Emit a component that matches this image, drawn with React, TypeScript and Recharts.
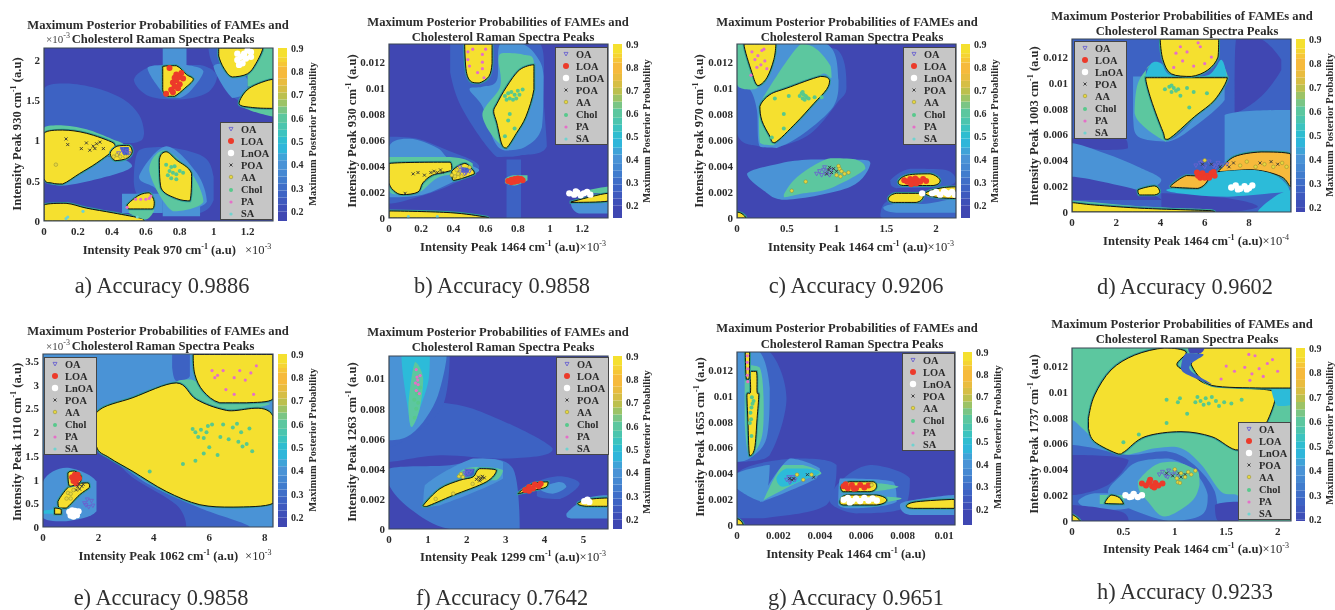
import React from "react";
import { ScatterChart, Scatter, XAxis, YAxis } from "recharts";

type Pt = [number, number];
type Region = [number, Pt[]];
type Marks = Record<string, Pt[]>;

const classNames = ["OA", "LOA", "LnOA", "POA", "AA", "Chol", "PA", "SA"];
const colorbarTicks = [0.2, 0.3, 0.4, 0.5, 0.6, 0.7, 0.8, 0.9];
const colorbarBands: [number, number, string][] = [
  [0.1, 0.2, "#3f47b2"], [0.2, 0.23, "#3e4fb8"], [0.23, 0.26, "#3e59be"], [0.26, 0.29, "#3d63c4"], [0.29, 0.32, "#3f6ec8"],
  [0.32, 0.35, "#417ccd"], [0.35, 0.38, "#4588d2"], [0.38, 0.42, "#4a93d6"], [0.42, 0.45, "#3fa3d8"], [0.45, 0.49, "#2fb6da"],
  [0.49, 0.52, "#2fbdd0"], [0.52, 0.55, "#3cc3bf"], [0.55, 0.58, "#4cc5ae"], [0.58, 0.62, "#5cc79f"], [0.62, 0.65, "#7ac585"],
  [0.65, 0.68, "#9cc366"], [0.68, 0.71, "#bcc04e"], [0.71, 0.74, "#d6be45"], [0.74, 0.77, "#e9bc3f"], [0.77, 0.82, "#f6ba3c"],
  [0.82, 0.84, "#f6c637"], [0.84, 0.86, "#f5d433"], [0.86, 0.9, "#f5e02f"],
];
const levelColors: Record<number, string> = {
  0.2: "#4047b2", 0.3: "#3d62c3", 0.35: "#4179cc", 0.4: "#4a93d6", 0.5: "#2cbbd9", 0.6: "#5cc79f", 0.8: "#f6ba3c", 0.9: "#f5e02f",
};

// a) 970 vs 930, both axes x10^-3
const regionsA: Region[] = [
  [0.3, [[0, 1.65], [0.13, 1.71], [0.31, 1.65], [0.47, 1.51], [0.56, 1.32], [0.59, 1.09], [0.53, 0.97], [0, 0.97]]],
  [0.3, [[0.56, 0.88], [0.72, 0.92], [0.94, 0.8], [1.0, 0.55], [1.0, 0.26], [0.92, 0.1], [0.72, 0.1], [0.58, 0.26], [0.53, 0.47]]],
  [0.3, [[0.53, 1.76], [0.66, 1.94], [0.92, 1.94], [1.02, 1.8], [0.96, 1.59], [0.8, 1.51], [0.62, 1.55]]],
  [0.3, [[0.97, 2.15], [1.0, 1.92], [1.11, 1.55], [1.35, 1.3], [1.35, 2.15]]],
  [0.4, [[1.0, 1.92], [1.1, 1.96], [1.2, 1.76], [1.2, 1.61], [1.11, 1.53]]],
  [0.4, [[0.7, 2.15], [0.84, 2.15], [0.84, 1.9], [0.7, 1.9]]],
  [0.4, [[0.61, 1.9], [0.72, 1.94], [0.84, 1.94], [0.94, 1.86], [0.87, 1.63], [0.8, 1.53], [0.72, 1.55]]],
  [0.6, [[1.29, 2.15], [1.35, 2.15], [1.35, 1.76], [1.2, 1.67], [1.2, 1.82], [1.25, 2.0]]],
  [0.6, [[1.15, 1.44], [1.35, 1.4], [1.35, 1.3], [1.25, 1.35]]],
  [0.9, [[1.03, 2.15], [1.29, 2.15], [1.25, 1.96], [1.2, 1.83], [1.11, 1.79], [1.06, 1.9], [1.03, 2.05]]],
  [0.9, [[1.15, 1.46], [1.21, 1.65], [1.35, 1.76], [1.35, 1.4], [1.23, 1.41]]],
  [0.9, [[0.7, 1.92], [0.78, 1.93], [0.84, 1.82], [0.88, 1.76], [0.83, 1.65], [0.77, 1.55], [0.73, 1.55], [0.7, 1.63]]],
  [0.4, [[0, 0.53], [0.11, 0.44], [0.4, 0.57], [0.52, 0.68], [0.45, 0.78], [0.3, 0.8], [0, 0.8]]],
  [0.6, [[0, 1.16], [0.1, 1.19], [0.25, 1.14], [0.4, 1.02], [0.47, 0.95], [0.41, 0.87], [0, 1.0]]],
  [0.9, [[0, 1.09], [0.11, 1.13], [0.25, 1.09], [0.41, 0.97], [0.42, 0.9], [0.31, 0.72], [0.21, 0.59], [0.11, 0.46], [0.05, 0.47], [0, 0.53]]],
  [0.9, [[0.39, 0.84], [0.43, 0.93], [0.5, 0.94], [0.52, 0.86], [0.49, 0.78], [0.42, 0.75]]],
  [0.3, [[0.45, 0.92], [0.5, 0.92], [0.5, 0.83], [0.47, 0.82]]],
  [0.9, [[0, 0.2], [0.13, 0.22], [0.25, 0.16], [0.41, 0.1], [0.58, 0.03], [0.59, 0], [0, 0]]],
  [0.4, [[0.46, 0.34], [0.7, 0.34], [0.7, 0.1], [0.46, 0.1]]],
  [0.4, [[0.7, 0.26], [0.92, 0.26], [0.92, 0.06], [0.7, 0.06]]],
  [0.6, [[0.5, 0.14], [0.65, 0.14], [0.6, 0.02], [0.5, 0.1]]],
  [0.9, [[0.49, 0.2], [0.56, 0.32], [0.62, 0.35], [0.65, 0.24], [0.64, 0.15], [0.5, 0.15]]],
  [0.4, [[0.56, 0.55], [0.72, 0.93], [0.9, 0.6], [0.96, 0.24], [0.76, 0.1], [0.66, 0.4]]],
  [0.6, [[0.62, 0.63], [0.71, 0.88], [0.87, 0.59], [0.94, 0.24], [0.76, 0.12]]],
  [0.9, [[0.68, 0.76], [0.72, 0.86], [0.78, 0.76], [0.87, 0.59], [0.86, 0.25], [0.78, 0.28], [0.69, 0.41]]],
];
const marksA: Marks = {
  OA: [[0.47, 0.85], [0.49, 0.87], [0.46, 0.89], [0.44, 0.84], [0.5, 0.84]],
  LOA: [[0.76, 1.72], [0.78, 1.75], [0.8, 1.79], [0.78, 1.82], [0.8, 1.7], [0.77, 1.67], [0.75, 1.63], [0.74, 1.9], [0.76, 1.6], [0.72, 1.58], [0.82, 1.77], [0.79, 1.65], [0.81, 1.84], [0.77, 1.78]],
  LnOA: [[1.14, 2.0], [1.16, 2.04], [1.18, 2.08], [1.2, 2.12], [1.22, 2.1], [1.17, 1.96], [1.15, 1.94], [1.19, 2.02], [1.22, 2.04], [1.14, 2.08]],
  POA: [[0.13, 1.02], [0.14, 0.95], [0.25, 0.97], [0.29, 0.93], [0.31, 0.96], [0.33, 0.98], [0.3, 0.9], [0.35, 0.9], [0.27, 0.88], [0.22, 0.9]],
  AA: [[0.43, 0.82], [0.45, 0.8], [0.48, 0.8], [0.41, 0.8], [0.07, 0.7]],
  Chol: [[0.74, 0.62], [0.76, 0.6], [0.75, 0.67], [0.78, 0.58], [0.73, 0.57], [0.77, 0.68], [0.8, 0.62], [0.72, 0.7], [0.78, 0.52], [0.82, 0.6], [0.75, 0.53]],
  PA: [[0.57, 0.27], [0.6, 0.27], [0.62, 0.28], [0.63, 0.31], [0.54, 0.27], [0.49, 0.17]],
  SA: [[0.13, 0.03], [0.14, 0.05], [0.23, 0.12], [0.55, 0.05]],
};

// b) 1464 vs 930
const regionsB: Region[] = [
  [0.3, [[0, 6.26], [0.17, 6.13], [0.36, 5.23], [0.56, 3.94], [0.36, 2.4], [0.11, 1.37], [0, 1.11]]],
  [0.3, [[0.38, 13.4], [0.94, 13.4], [0.96, 9.1], [0.98, 5.5], [0.81, 4.8], [0.67, 4.7], [0.46, 8.3], [0.38, 11.2]]],
  [0.4, [[0.5, 9.9], [0.58, 8.6], [0.65, 6.0], [0.72, 5.2], [0.85, 5.5], [0.95, 7.0], [0.96, 10.9], [0.92, 12.4], [0.83, 13.4], [0.69, 13.4], [0.67, 10.6], [0.58, 10.1]]],
  [0.6, [[0.58, 7.9], [0.69, 10.1], [0.68, 12.2], [0.71, 12.7], [0.83, 12.6], [0.9, 11.9], [0.73, 5.5]]],
  [0.9, [[0.67, 8.8], [0.73, 10.1], [0.81, 11.4], [0.9, 11.8], [0.9, 9.9], [0.85, 7.8], [0.79, 6.5], [0.73, 5.4], [0.7, 5.7], [0.67, 7.3], [0.65, 8.2]]],
  [0.9, [[0.47, 13.4], [0.64, 13.4], [0.64, 11.9], [0.62, 10.9], [0.56, 10.4], [0.51, 10.5], [0.48, 11.3]]],
  [0.4, [[0, 5.5], [0.13, 6.1], [0.3, 5.4], [0.38, 4.5], [0.56, 3.7], [0.4, 2.8], [0.21, 1.8], [0, 1.6]]],
  [0.6, [[0, 4.7], [0.38, 4.7], [0.52, 4.2], [0.52, 3.4], [0.32, 3.2], [0.19, 2.0], [0.07, 1.8], [0, 2.1]]],
  [0.9, [[0, 4.2], [0.38, 4.3], [0.39, 3.7], [0.27, 3.3], [0.21, 2.7], [0.18, 2.0], [0.09, 1.8], [0.04, 2.0], [0, 2.7]]],
  [0.9, [[0.39, 3.6], [0.47, 4.2], [0.52, 3.7], [0.53, 3.4], [0.4, 2.9]]],
  [0.3, [[0.45, 3.9], [0.5, 3.8], [0.49, 3.5], [0.45, 3.5]]],
  [0.9, [[0, 0.54], [0.38, 0.41], [0.6, 0.08], [0.62, 0], [0, 0]]],
  [0.3, [[0.73, 4.5], [0.82, 4.5], [0.82, 0], [0.73, 0]]],
  [0.6, [[0.72, 3.0], [0.77, 3.3], [0.86, 3.3], [0.86, 2.9], [0.78, 2.5], [0.72, 2.7]]],
  [0.4, [[1.13, 1.1], [1.36, 1.4], [1.36, 0.35], [1.18, 0.35]]],
  [0.6, [[1.17, 1.9], [1.36, 2.4], [1.36, 1.9]]],
  [0.9, [[1.13, 1.24], [1.36, 1.9], [1.36, 1.3], [1.13, 1.2]]],
];
const marksB: Marks = {
  OA: [[0.44, 3.9], [0.46, 3.7], [0.48, 3.5], [0.5, 3.6], [0.47, 3.4], [0.44, 3.5]],
  LOA: [[0.74, 2.85], [0.76, 2.95], [0.78, 3.0], [0.8, 3.05], [0.82, 3.0], [0.78, 2.8], [0.76, 2.75], [0.8, 2.85], [0.83, 2.9]],
  LnOA: [[1.12, 1.9], [1.15, 1.8], [1.17, 1.95], [1.19, 1.75], [1.21, 1.9], [1.23, 2.0], [1.25, 1.8], [1.16, 2.05]],
  POA: [[0.15, 3.4], [0.18, 3.5], [0.22, 3.3], [0.26, 3.5], [0.28, 3.6], [0.3, 3.5], [0.32, 3.7], [0.33, 3.5], [0.1, 1.9]],
  AA: [[0.41, 3.2], [0.43, 3.4], [0.45, 3.2], [0.39, 3.3], [0.42, 3.7], [0.5, 3.9]],
  Chol: [[0.72, 9.4], [0.74, 9.6], [0.75, 9.2], [0.76, 9.7], [0.78, 9.5], [0.79, 9.2], [0.8, 9.8], [0.81, 9.5], [0.83, 9.9], [0.77, 9.1], [0.73, 9.1], [0.74, 7.5], [0.75, 8.0], [0.72, 6.3], [0.78, 6.9]],
  PA: [[0.49, 12.8], [0.49, 12.2], [0.5, 11.7], [0.52, 13], [0.58, 12.6], [0.58, 12], [0.6, 13], [0.59, 10.8], [0.55, 11.2], [0.58, 11.5]],
  SA: [[0.12, 0.1], [0.3, 0.1]],
};

// c) 1464 vs 970
const regionsC: Region[] = [
  [0.3, [[0, 13.4], [1.0, 13.0], [1.1, 10.1], [1.0, 8.8], [0.74, 6.5], [0.43, 5.5], [0.23, 5.5], [0, 6.5]]],
  [0.4, [[0, 10.3], [0.13, 9.9], [0.2, 8.3], [0.23, 5.5], [0.4, 5.4], [0.67, 6.5], [0.97, 8.6], [1.02, 10.6], [0.9, 13.4], [0, 13.4]]],
  [0.6, [[0.33, 10.1], [0.64, 13.4], [0.8, 13.0], [0.94, 11.7], [0.95, 10.8], [0.82, 10.9], [0.5, 7.0], [0.37, 5.6], [0.23, 5.8], [0.22, 8.3]]],
  [0.6, [[0, 13.4], [0.08, 13.4], [0.22, 10.3], [0.13, 9.9], [0, 10.3]]],
  [0.9, [[0.07, 13.4], [0.39, 13.4], [0.37, 12.2], [0.3, 10.8], [0.21, 10.2], [0.15, 11.2]]],
  [0.9, [[0.23, 8.6], [0.33, 9.5], [0.5, 10.0], [0.84, 10.9], [0.93, 10.6], [0.9, 9.9], [0.77, 8.8], [0.59, 7.3], [0.38, 5.8], [0.33, 6.3], [0.25, 7.5]]],
  [0.4, [[0.1, 3.4], [0.43, 4.2], [0.74, 4.5], [1.19, 4.5], [1.34, 4.2], [1.14, 2.4], [0.5, 1.4], [0.27, 2.1]]],
  [0.6, [[0.47, 1.8], [0.57, 2.9], [0.74, 3.9], [0.94, 4.6], [1.19, 4.5], [1.29, 3.8], [0.94, 2.3], [0.67, 1.9], [0.48, 1.6]]],
  [0.3, [[1.44, 0.3], [1.54, 1.4], [2.2, 1.9], [2.2, 0], [1.47, 0]]],
  [0.4, [[1.47, 0.8], [1.6, 1.1], [1.9, 1.1], [2.2, 1.5], [2.2, 0.4], [1.6, 0.4]]],
  [0.3, [[1.54, 2.9], [1.74, 3.8], [2.1, 3.7], [2.2, 2.9], [2.07, 2.4], [1.6, 2.3]]],
  [0.9, [[1.62, 2.8], [1.71, 3.3], [1.94, 3.4], [2.04, 2.9], [1.97, 2.5], [1.67, 2.5]]],
  [0.9, [[1.52, 1.5], [1.6, 1.9], [1.84, 1.9], [1.87, 1.6], [1.8, 1.2], [1.57, 1.2]]],
  [0.9, [[1.89, 1.9], [2.04, 2.3], [2.2, 2.4], [2.2, 1.5], [2.0, 1.6]]],
  [0.9, [[0, 0.46], [0.05, 0.33], [0.09, 0], [0, 0]]],
];
const marksC: Marks = {
  OA: [[0.8, 3.4], [0.83, 3.6], [0.85, 3.3], [0.87, 3.7], [0.89, 3.4], [0.91, 3.6], [0.93, 3.3], [0.95, 3.7], [0.88, 3.9]],
  LOA: [[1.68, 2.9], [1.71, 2.8], [1.74, 3.0], [1.77, 2.75], [1.79, 3.05], [1.81, 2.9], [1.84, 2.8], [1.87, 3.0], [1.75, 2.6], [1.8, 2.65], [1.9, 2.85]],
  LnOA: [[1.96, 1.9], [2.0, 2.0], [2.04, 1.8], [2.08, 2.05], [2.12, 1.85], [2.16, 2.0], [2.19, 1.8], [2.1, 1.95], [1.86, 1.9]],
  POA: [[0.92, 3.7], [0.95, 3.5], [0.97, 3.8], [0.9, 3.4], [0.93, 3.9], [1.0, 3.6]],
  AA: [[1.03, 3.8], [1.05, 3.6], [1.08, 3.4], [1.12, 3.5], [1.0, 3.3], [1.04, 3.2], [0.69, 2.8], [0.55, 2.1], [1.02, 4.0]],
  Chol: [[0.63, 9.4], [0.65, 9.6], [0.66, 9.2], [0.67, 9.5], [0.68, 9.1], [0.69, 9.4], [0.7, 9.3], [0.66, 9.7], [0.72, 9.2], [0.78, 9.3], [0.52, 9.4], [0.38, 9.2], [0.47, 8.0], [0.47, 6.9], [0.35, 6.2], [0.85, 9.3]],
  PA: [[0.15, 12.8], [0.18, 12.2], [0.21, 12.5], [0.24, 11.8], [0.27, 13], [0.28, 12.1], [0.3, 11.5], [0.14, 11.0], [0.2, 11.6], [0.25, 12.9]],
  SA: [],
};

// d) 1464 (x10^-4) vs 1003
const regionsD: Region[] = [
  [0.3, [[0, 0], [9.9, 0], [9.9, 13.4], [0, 13.4]]],
  [0.2, [[0, 5.71], [2.38, 5.71], [2.53, 4.94], [1.33, 4.81], [0, 5.32]]],
  [0.2, [[7.42, 13.4], [8.55, 13.4], [9.46, 11.8], [9.46, 11.0], [8.55, 8.94], [7.35, 7.65], [7.35, 9.97]]],
  [0.4, [[6.9, 7.52], [9.88, 7.91], [9.88, 4.55], [8.25, 4.68], [6.9, 3.77]]],
  [0.4, [[0, 5.32], [1.48, 4.55], [2.98, 3.51], [4.04, 2.48], [2.98, 1.71], [0, 2.74]]],
  [0.4, [[2.76, 10.5], [3.36, 10.5], [4.34, 5.58], [6.9, 9.97], [6.9, 8.68], [5.54, 6.62], [4.34, 5.45], [2.98, 5.84], [2.76, 7.39]]],
  [0.6, [[3.58, 11.4], [2.98, 9.97], [2.83, 7.65], [3.43, 6.36], [4.26, 5.45], [3.36, 10.4]]],
  [0.6, [[6.3, 10.6], [6.75, 11.5], [7.05, 10.4]]],
  [0.5, [[3.58, 11.5], [4.04, 11.5], [4.49, 10.6], [6.14, 10.6], [6.75, 11.8], [7.0, 10.3], [3.3, 10.3]]],
  [0.9, [[3.33, 10.4], [5.54, 10.4], [7.02, 10.4], [6.45, 8.68], [5.54, 7.39], [4.34, 5.63], [4.11, 6.23], [3.58, 8.68]]],
  [0.9, [[3.99, 13.4], [6.63, 13.4], [6.6, 12.0], [6.14, 11.0], [5.39, 10.5], [4.49, 10.7], [4.11, 11.8]]],
  [0.2, [[0, 2.74], [2.98, 1.71], [4.04, 0.93], [0, 0.93]]],
  [0.2, [[4.04, 1.45], [7.05, 1.06], [8.4, 0.41], [6.75, 0], [4.04, 0.41]]],
  [0.8, [[6.75, 3.38], [7.35, 4.29], [8.55, 4.65], [9.88, 4.5], [9.88, 1.96], [9.46, 2.74], [8.25, 3.26], [6.6, 3.13]]],
  [0.5, [[4.26, 1.71], [5.99, 2.35], [6.75, 3.13], [8.25, 3.26], [9.31, 2.74], [9.83, 1.71], [9.0, 1.45], [7.05, 1.19], [5.54, 1.32]]],
  [0.8, [[4.46, 2.02], [5.17, 2.82], [5.84, 2.74], [6.14, 2.48], [5.69, 1.83], [4.64, 1.91]]],
  [0.9, [[2.98, 1.71], [3.73, 2.02], [3.96, 1.58], [3.73, 1.32], [3.06, 1.32]]],
  [0.5, [[8.4, 0], [9.16, 1.19], [9.88, 1.71], [9.88, 0]]],
  [0.6, [[0, 0.9], [3.3, 0.42], [6.3, 0.2], [6.4, 0.1], [0, 0.7]]],
  [0.9, [[0, 0.72], [1.02, 0.54], [3.28, 0.28], [6.3, 0.1], [6.45, 0], [0, 0]]],
];
const marksD: Marks = {
  OA: [[5.6, 3.6], [5.8, 3.8], [6.0, 3.5], [6.2, 3.9], [6.4, 3.6], [6.6, 3.8], [6.8, 3.6], [7.0, 3.7], [5.9, 3.9], [6.5, 3.5]],
  LOA: [[5.7, 2.8], [5.9, 3.0], [6.1, 2.8], [6.3, 3.0], [6.45, 2.8], [5.8, 2.65], [6.0, 2.65], [6.2, 2.65], [6.4, 3.1], [5.65, 3.05]],
  LnOA: [[7.2, 1.9], [7.4, 2.05], [7.6, 1.8], [7.8, 2.0], [8.0, 1.85], [8.15, 2.05], [7.5, 1.75], [7.9, 1.75]],
  POA: [[5.9, 3.7], [6.3, 3.7], [6.7, 3.5], [7.1, 3.5], [7.3, 3.8], [8.5, 3.8], [9.0, 3.9], [9.3, 3.7]],
  AA: [[7.6, 3.6], [7.9, 3.9], [8.3, 3.5], [8.7, 3.7], [9.1, 3.5], [9.5, 3.8], [9.7, 3.5], [6.0, 4.0]],
  Chol: [[4.2, 9.5], [4.4, 9.7], [4.5, 9.3], [4.6, 9.6], [4.7, 9.4], [4.8, 9.5], [4.5, 9.8], [5.2, 9.6], [5.5, 9.3], [4.9, 9.0], [5.3, 8.1], [6.1, 9.2]],
  PA: [[4.7, 12.3], [4.9, 12.8], [5.0, 11.7], [5.2, 12.4], [5.5, 11.3], [5.8, 12.8], [6.0, 11.5], [4.6, 11.2], [6.3, 12.0], [5.7, 13.1]],
  SA: [],
};

// e) 1062 vs 1110, both axes x10^-3
const regionsE: Region[] = [
  [0.4, [[0, 0], [8.3, 0], [8.3, 3.65], [0, 3.65]]],
  [0.3, [[0, 1.53], [1.93, 1.6], [3.85, 0.89], [5.66, 0.4], [7.46, 0], [0, 0]]],
  [0.2, [[0, 1.53], [1.93, 1.67], [3.25, 1.04], [4.81, 0.47], [5.17, 0], [0, 0]]],
  [0.3, [[4.66, 3.64], [5.3, 3.64], [5.3, 3.18], [4.81, 3.08], [4.66, 3.36]]],
  [0.6, [[4.81, 3.04], [5.36, 3.11], [6.14, 2.8], [6.74, 2.62], [8.2, 2.6], [6.98, 2.46], [5.54, 2.69]]],
  [0.9, [[1.93, 2.41], [3.25, 2.73], [4.81, 3.04], [5.54, 2.69], [6.62, 2.46], [8.3, 2.34], [8.3, 0.5], [6.86, 0.42], [5.66, 0.47], [4.45, 0.75], [3.25, 1.17], [2.4, 1.46], [1.93, 1.7]]],
  [0.9, [[5.42, 3.64], [8.3, 3.64], [8.3, 2.7], [7.34, 2.62], [6.38, 2.62], [5.78, 2.87], [5.48, 3.22]]],
  [0.4, [[0, 0.96], [0.84, 1.25], [1.93, 0.96], [1.93, 0.33], [0.84, 0.12], [0, 0.19]]],
  [0.5, [[0, 0.34], [0.5, 0.38], [0.5, 0.28], [0, 0.28]]],
  [0.9, [[0.54, 0.54], [1.02, 0.89], [1.62, 0.93], [1.68, 0.84], [1.32, 0.68], [0.84, 0.4], [0.6, 0.4]]],
  [0.9, [[0.9, 1.14], [1.14, 1.18], [1.38, 1.07], [1.32, 0.93], [0.96, 0.86]]],
  [0.9, [[0.42, 0.4], [0.66, 0.37], [0.66, 0.27], [0.42, 0.27]]],
];
const marksE: Marks = {
  OA: [[1.5, 0.5], [1.6, 0.58], [1.75, 0.55], [1.8, 0.45], [1.65, 0.42], [1.55, 0.46]],
  LOA: [[1.05, 1.05], [1.15, 1.1], [1.25, 1.1], [1.3, 1.03], [1.2, 1.0], [1.1, 0.97], [1.2, 0.92]],
  LnOA: [[0.95, 0.32], [1.05, 0.35], [1.15, 0.34], [1.28, 0.33], [1.0, 0.24], [1.1, 0.22], [1.22, 0.25]],
  POA: [[1.25, 0.85], [1.32, 0.8], [1.4, 0.86], [1.3, 0.9], [1.45, 0.9], [1.2, 0.78]],
  AA: [[0.9, 0.72], [1.0, 0.7], [1.1, 0.78], [0.85, 0.6], [1.0, 0.6]],
  Chol: [[3.85, 1.17], [5.05, 1.33], [5.4, 2.07], [5.5, 2.0], [5.6, 1.9], [5.7, 2.05], [5.8, 1.88], [5.9, 2.0], [5.95, 2.13], [6.1, 2.16], [5.5, 1.4], [5.8, 1.55], [6.0, 1.68], [6.3, 1.52], [6.4, 1.9], [6.5, 2.16], [6.7, 1.85], [6.85, 2.1], [7.0, 2.18], [7.05, 1.8], [7.15, 2.0], [7.2, 1.7], [7.35, 1.75], [7.45, 2.08], [7.55, 1.6]],
  PA: [[6.1, 3.3], [6.2, 3.15], [6.5, 3.3], [6.6, 2.9], [6.9, 3.15], [6.9, 2.8], [7.1, 3.3], [7.5, 3.25], [7.7, 3.4], [7.6, 2.8], [6.3, 3.2], [7.3, 3.1]],
  SA: [],
};

// f) 1299 vs 1263
const regionsF: Region[] = [
  [0.3, [[0.79, 8.45], [2.16, 8.0], [4.21, 5.34], [3.02, 4.68], [1.31, 4.9], [0, 4.46], [0, 5.56]]],
  [0.35, [[0, 4.01], [1.56, 4.23], [2.42, 4.68], [3.19, 4.01], [3.36, 0], [1.56, 0], [0.54, 1.35], [0, 2.9]]],
  [0.3, [[0, 11.5], [1.56, 11.5], [1.39, 8.23], [0.71, 6.45], [0, 5.45]]],
  [0.4, [[0, 11.5], [1.48, 11.5], [1.26, 8.89], [0.88, 7.12], [0.45, 6.12], [0, 5.9]]],
  [0.5, [[0.32, 11.5], [1.05, 11.5], [1.01, 9.78], [0.79, 8.0], [0.58, 6.78], [0.5, 7.78], [0.37, 10.0]]],
  [0.6, [[0.58, 6.78], [0.79, 8.0], [0.88, 10.0], [0.67, 11.1], [0.5, 8.23]]],
  [0.4, [[0.92, 2.9], [2.16, 4.68], [2.93, 4.46], [2.93, 3.35], [1.31, 1.57], [0.88, 1.46]]],
  [0.6, [[1.74, 3.46], [1.95, 4.01], [2.42, 4.12], [2.93, 3.9], [2.76, 3.24], [2.33, 3.24]]],
  [0.9, [[0.88, 1.57], [1.31, 2.68], [1.82, 3.24], [2.16, 3.46], [2.33, 4.01], [2.76, 3.9], [2.5, 3.13], [1.65, 2.24], [0.97, 1.5]]],
  [0.3, [[1.95, 4.01], [2.2, 4.01], [2.16, 3.57], [1.97, 3.46]]],
  [0.3, [[3.8, 3.1], [4.4, 3.5], [4.9, 3.0], [4.4, 2.0], [3.8, 2.2]]],
  [0.4, [[3.87, 2.68], [4.38, 3.13], [4.56, 2.79], [4.21, 2.35]]],
  [0.9, [[3.32, 2.35], [3.7, 3.02], [4.09, 3.13], [4.04, 2.79], [3.7, 2.57]]],
  [0.4, [[4.56, 1.02], [5.07, 2.02], [5.62, 2.24], [5.62, 0.69], [4.73, 0.69]]],
  [0.9, [[4.85, 1.69], [5.15, 1.97], [5.62, 2.06], [5.62, 1.51], [5.07, 1.51]]],
];
const marksF: Marks = {
  OA: [[1.95, 3.7], [2.0, 3.85], [2.05, 3.7], [2.1, 3.85], [1.98, 3.6]],
  LOA: [[3.5, 2.6], [3.6, 2.8], [3.7, 2.7], [3.75, 2.95], [3.85, 2.85], [3.6, 2.55], [3.9, 3.0]],
  LnOA: [[5.02, 1.85], [5.1, 1.95], [5.15, 1.8]],
  POA: [[2.25, 3.3], [2.3, 3.45], [2.35, 3.3], [2.4, 3.5], [2.45, 3.4], [2.33, 3.2], [2.38, 3.38]],
  AA: [[1.8, 3.5], [1.85, 3.65], [1.9, 3.45], [1.2, 2.0], [1.65, 2.35], [2.15, 3.0]],
  Chol: [[0.66, 7.4], [0.7, 8.0], [0.75, 8.4], [0.72, 9.0], [0.8, 9.4], [0.65, 8.6]],
  PA: [[0.7, 10.6], [0.72, 10.1], [0.75, 9.6], [0.7, 9.2], [0.78, 9.0], [0.74, 9.9], [0.8, 10.2], [0.68, 9.7]],
  SA: [],
};

// g) 1464 vs 1655
const regionsG: Region[] = [
  [0.3, [[0, 13.4], [1.58, 13.4], [2.39, 9.79], [1.58, 5.41], [0.45, 4.9], [0, 4.9]]],
  [0.4, [[0, 13.4], [1.1, 13.4], [1.58, 10.6], [1.42, 6.7], [0.61, 5.15], [0, 4.9]]],
  [0.6, [[0.37, 12.4], [1.1, 12.2], [1.29, 9.28], [1.18, 6.7], [0.61, 5.28], [0.37, 8.0]]],
  [0.9, [[0.66, 11.9], [0.94, 11.9], [0.97, 10.3], [1.05, 10.05], [0.97, 8.25], [0.85, 5.93], [0.61, 5.36], [0.53, 8.0], [0.48, 10.05], [0.65, 10.3]]],
  [0.9, [[0.4, 13.4], [0.61, 13.4], [0.58, 11.3], [0.45, 11.3]]],
  [0.3, [[0, 4.0], [2.71, 5.15], [4.81, 4.64], [4.32, 1.55], [1.26, 0.52], [0, 0.52]]],
  [0.4, [[0, 4.0], [1.58, 4.64], [1.26, 1.8], [0, 2.84]]],
  [0.4, [[1.1, 1.8], [2.55, 5.15], [4.0, 4.38], [3.84, 3.61]]],
  [0.6, [[1.29, 1.93], [2.23, 4.64], [3.19, 4.64], [4.08, 4.0], [3.19, 3.48], [1.58, 2.19]]],
  [0.5, [[1.9, 3.61], [2.39, 4.38], [3.35, 4.38], [4.0, 4.07], [3.19, 3.48], [2.23, 2.96]]],
  [0.3, [[4.97, 3.35], [6.42, 4.64], [8.35, 3.61], [8.03, 1.29], [5.77, 0.9], [4.48, 1.8]]],
  [0.4, [[4.97, 3.61], [7.55, 3.35], [7.71, 1.8], [5.77, 1.29], [4.89, 1.55]]],
  [0.6, [[6.6, 3.25], [7.8, 2.96], [6.6, 2.6]]],
  [0.9, [[5.02, 2.96], [5.45, 3.35], [6.58, 3.35], [6.74, 2.96], [6.42, 2.58], [5.13, 2.58]]],
  [0.6, [[7.23, 2.19], [7.95, 2.06], [7.23, 1.8]]],
  [0.9, [[4.97, 1.8], [5.29, 2.32], [6.74, 2.32], [7.23, 1.93], [6.74, 1.55], [5.13, 1.55]]],
  [0.4, [[7.87, 1.55], [8.52, 1.93], [10.5, 2.32], [10.5, 0.77], [8.35, 0.77]]],
  [0.9, [[8.19, 1.49], [8.68, 1.8], [10.5, 1.98], [10.5, 1.29], [8.52, 1.29]]],
  [0.9, [[0, 0.5], [0.2, 0.3], [0.3, 0], [0, 0]]],
];
const marksG: Marks = {
  OA: [[2.4, 3.5], [2.5, 3.7], [2.6, 3.4], [2.7, 3.7], [2.8, 3.5], [2.55, 3.3]],
  LOA: [[5.15, 3.0], [5.35, 2.85], [5.55, 3.1], [5.75, 2.85], [5.95, 3.1], [6.15, 2.9], [6.35, 3.05], [5.25, 3.15], [5.65, 2.8]],
  LnOA: [[5.15, 1.95], [5.35, 2.1], [5.55, 1.85], [5.75, 2.05], [5.95, 1.85], [6.15, 2.1], [6.35, 1.9], [6.55, 2.05], [6.75, 1.9], [5.45, 1.75]],
  POA: [[2.55, 3.6], [2.65, 3.5], [2.75, 3.6], [3.4, 3.9], [3.7, 3.7]],
  AA: [[2.9, 3.9], [3.2, 3.5], [3.6, 3.9], [6.5, 3.1]],
  Chol: [[0.65, 8.7], [0.7, 9.1], [0.75, 9.4], [0.8, 9.6], [0.72, 9.9], [0.62, 7.9], [0.7, 6.9], [0.68, 8.2]],
  PA: [[0.5, 13.1], [0.5, 12.6], [0.52, 12.1], [0.5, 11.6], [0.52, 11.1]],
  SA: [],
};

// h) 1464 vs 1737
const regionsH: Region[] = [
  [0.6, [[0, 0], [2.13, 0], [2.13, 13.4], [0, 13.4]]],
  [0.4, [[0, 7.82], [0.19, 6.53], [0.45, 5.11], [0.81, 5.63], [1.06, 5.63], [1.26, 4.34], [1.45, 2.27], [1.62, 1.88], [1.62, 0], [0, 0]]],
  [0.3, [[0, 5.88], [0.22, 5.63], [0.55, 5.11], [0.94, 5.37], [1.19, 4.34], [1.39, 2.27], [1.42, 0], [0, 0]]],
  [0.4, [[0.48, 3.56], [0.64, 4.59], [0.94, 4.85], [1.19, 3.82], [1.32, 2.01], [1.26, 0.46], [0.94, 0], [0.48, 1.24], [0.35, 2.27]]],
  [0.2, [[0, 5.11], [0.55, 4.72], [0.35, 2.79], [0, 2.01]]],
  [0.4, [[0.06, 1.5], [0.22, 2.14], [0.51, 2.01], [0.55, 0.98], [0.22, 0.85]]],
  [0.2, [[0, 1.24], [0.48, 0.72], [0.55, 0], [0, 0]]],
  [0.2, [[1.39, 1.24], [1.62, 1.5], [1.62, 0], [1.42, 0]]],
  [0.6, [[0.66, 2.27], [0.64, 3.05], [0.81, 4.34], [1.0, 4.59], [1.23, 3.82], [1.24, 2.79], [1.16, 1.5], [0.9, 0.34], [0.74, 1.5]]],
  [0.6, [[0.27, 2.01], [0.51, 2.01], [0.5, 1.32], [0.27, 1.32]]],
  [0.9, [[0.32, 1.37], [0.38, 2.01], [0.46, 1.81], [0.5, 1.32]]],
  [0.9, [[0, 0.5], [0.08, 0], [0, 0]]],
  [0.9, [[0.16, 7.95], [0.22, 9.75], [0.38, 11.7], [0.61, 12.85], [0.9, 13.4], [1.11, 13.1], [1.02, 12.1], [1.16, 11.4], [1.36, 10.5], [1.94, 10.1], [1.97, 9.24], [1.84, 6.92], [1.62, 5.5], [1.36, 6.53], [1.06, 6.92], [0.71, 6.53], [0.51, 5.37], [0.45, 5.19], [0.22, 6.14], [0.16, 7.17]]],
  [0.9, [[1.29, 13.4], [2.13, 13.4], [2.13, 10.3], [1.84, 10.3], [1.36, 10.5], [1.16, 12.1], [1.23, 12.85]]],
  [0.3, [[1.11, 13.0], [1.28, 12.9], [1.16, 12.2], [1.16, 11.6], [1.36, 10.6], [1.16, 11.2], [1.06, 11.8]]],
  [0.2, [[1.13, 13.4], [1.29, 13.4], [1.25, 13.0], [1.15, 13.0]]],
  [0.5, [[1.94, 10.2], [2.13, 10.2], [2.13, 9.0], [2.0, 8.9]]],
];
const marksH: Marks = {
  OA: [[0.85, 3.6], [0.88, 3.8], [0.91, 3.5], [0.94, 3.9], [0.97, 3.6], [1.0, 3.8], [1.03, 3.5], [0.93, 3.4]],
  LOA: [[0.68, 2.9], [0.72, 2.75], [0.75, 3.0], [0.78, 2.7], [0.81, 2.95], [0.84, 2.75], [0.88, 2.9], [0.76, 3.2], [0.8, 2.6]],
  LnOA: [[0.52, 2.0], [0.56, 1.85], [0.6, 2.1], [0.64, 1.85], [0.68, 2.0], [0.58, 1.9]],
  POA: [[0.92, 3.7], [0.98, 3.5], [1.04, 3.7], [1.06, 3.4], [1.1, 3.6]],
  AA: [[1.02, 3.3], [1.06, 3.7], [1.1, 3.4], [1.13, 3.8], [1.16, 3.6], [1.2, 3.9], [1.03, 3.0], [1.05, 2.95], [1.0, 4.0]],
  Chol: [[0.92, 9.4], [1.03, 9.2], [1.05, 9.5], [1.2, 9.2], [1.22, 9.6], [1.25, 9.3], [1.28, 9.0], [1.3, 9.5], [1.33, 9.1], [1.36, 9.6], [1.4, 9.3], [1.43, 8.9], [1.48, 9.2], [1.55, 9.1], [1.65, 9.4], [0.92, 7.6], [0.65, 6.7], [1.12, 8.3], [0.5, 6.1]],
  PA: [[1.5, 12.0], [1.58, 11.6], [1.68, 11.9], [1.72, 12.9], [1.75, 11.4], [1.78, 12.8], [1.82, 11.8], [1.86, 11.2], [1.9, 12.2], [1.95, 12.5], [2.0, 11.6], [1.45, 11.0], [1.73, 10.9]],
  SA: [],
};

const titleLine1 = "Maximum Posterior Probabilities of FAMEs and";
const titleLine2 = "Cholesterol Raman Spectra Peaks";

const panels = [
  {
    id: "a", acc: "0.9886", plot: [44, 48, 229, 173], xMax: 1.35, yMax: 2.15, xTicks: [0, 0.2, 0.4, 0.6, 0.8, 1, 1.2], yTicks: [0, 0.5, 1, 1.5, 2], yDiv: 1,
    regions: regionsA, marks: marksA, cbarLow: 0.16, legend: [220, 122], xName: "970", yName: "930", xExp: "-3", gap: 9, yExp: true,
    title: [158, 25, 163, 39], xLab: [177, 250], yLab: [17, 134], capt: [162, 286], cbarLab: [312, 134], cbarX: 278,
  },
  {
    id: "b", acc: "0.9858", plot: [389, 44, 219, 174], xMax: 1.36, yMax: 13.4, xTicks: [0, 0.2, 0.4, 0.6, 0.8, 1, 1.2], yTicks: [0, 2, 4, 6, 8, 10, 12], yDiv: 1000,
    regions: regionsB, marks: marksB, cbarLow: 0.145, legend: [555, 47], xName: "1464", yName: "930", xExp: "-3", gap: 0, yExp: false,
    title: [498, 22, 503, 37], xLab: [513, 247], yLab: [352, 131], capt: [502, 286], cbarLab: [646, 131], cbarX: 613,
  },
  {
    id: "c", acc: "0.9206", plot: [737, 44, 219, 174], xMax: 2.2, yMax: 13.4, xTicks: [0, 0.5, 1, 1.5, 2], yTicks: [0, 2, 4, 6, 8, 10, 12], yDiv: 1000,
    regions: regionsC, marks: marksC, cbarLow: 0.145, legend: [903, 47], xName: "1464", yName: "970", xExp: "-3", gap: 0, yExp: false,
    title: [847, 22, 852, 37], xLab: [861, 247], yLab: [699, 131], capt: [856, 286], cbarLab: [994, 131], cbarX: 961,
  },
  {
    id: "d", acc: "0.9602", plot: [1072, 39, 219, 173], xMax: 9.9, yMax: 13.4, xTicks: [0, 2, 4, 6, 8], yTicks: [0, 2, 4, 6, 8, 10, 12], yDiv: 1000,
    regions: regionsD, marks: marksD, cbarLow: 0.18, legend: [1074, 41], xName: "1464", yName: "1003", xExp: "-4", gap: 0, yExp: false,
    title: [1182, 16, 1187, 31], xLab: [1196, 241], yLab: [1034, 126], capt: [1185, 287], cbarLab: [1329, 125], cbarX: 1296,
  },
  {
    id: "e", acc: "0.9858", plot: [43, 354, 230, 173], xMax: 8.3, yMax: 3.65, xTicks: [0, 2, 4, 6, 8], yTicks: [0, 0.5, 1, 1.5, 2, 2.5, 3, 3.5], yDiv: 1,
    regions: regionsE, marks: marksE, cbarLow: 0.16, legend: [44, 357], xName: "1062", yName: "1110", xExp: "-3", gap: 7, yExp: true,
    title: [158, 331, 163, 346], xLab: [175, 556], yLab: [17, 442], capt: [161, 598], cbarLab: [312, 440], cbarX: 278,
  },
  {
    id: "f", acc: "0.7642", plot: [389, 356, 219, 173], xMax: 5.63, yMax: 11.5, xTicks: [0, 1, 2, 3, 4, 5], yTicks: [0, 2, 4, 6, 8, 10], yDiv: 1000,
    regions: regionsF, marks: marksF, cbarLow: 0.16, legend: [556, 357], xName: "1299", yName: "1263", xExp: "-3", gap: 0, yExp: false,
    title: [498, 332, 503, 347], xLab: [513, 557], yLab: [352, 442], capt: [502, 598], cbarLab: [646, 442], cbarX: 613,
  },
  {
    id: "g", acc: "0.9651", plot: [737, 352, 218, 173], xMax: 10.53, yMax: 13.4, xTicks: [0, 2, 4, 6, 8, 10], yTicks: [0, 2, 4, 6, 8, 10, 12], yDiv: 1000,
    regions: regionsG, marks: marksG, cbarLow: 0.13, legend: [902, 353], xName: "1464", yName: "1655", xExp: "", gap: 0, yExp: false, xDiv: 1000,
    title: [847, 328, 852, 344], xLab: [846, 554], yLab: [700, 437], capt: [856, 598], cbarLab: [997, 437], cbarX: 963,
  },
  {
    id: "h", acc: "0.9233", plot: [1072, 348, 219, 173], xMax: 2.13, yMax: 13.4, xTicks: [0, 0.5, 1, 1.5, 2], yTicks: [0, 2, 4, 6, 8, 10, 12], yDiv: 1000,
    regions: regionsH, marks: marksH, cbarLow: 0.195, legend: [1238, 422], xName: "1464", yName: "1737", xExp: "-3", gap: 0, yExp: false,
    title: [1182, 324, 1187, 339], xLab: [1196, 549], yLab: [1034, 434], capt: [1185, 592], cbarLab: [1329, 433], cbarX: 1296,
  },
];

const serif = "'Liberation Serif', serif";
const inkColor = "#2b2b2b";
const tickStyle = { fill: inkColor, fontSize: 11, fontWeight: 700, fontFamily: serif };

function hiddenMark() {
  return <g />;
}

// closed Catmull-Rom through the region outline, control points kept inside its box
function smoothPath(pts: { x: number; y: number }[]) {
  const xs = pts.map((p) => p.x);
  const ys = pts.map((p) => p.y);
  const cx = (v: number) => Math.min(Math.max(...xs), Math.max(Math.min(...xs), v));
  const cy = (v: number) => Math.min(Math.max(...ys), Math.max(Math.min(...ys), v));
  const n = pts.length;
  let d = `M${pts[0].x},${pts[0].y}`;
  for (let i = 0; i < n; i++) {
    const p0 = pts[(i - 1 + n) % n];
    const p1 = pts[i];
    const p2 = pts[(i + 1) % n];
    const p3 = pts[(i + 2) % n];
    d += `C${cx(p1.x + (p2.x - p0.x) / 6)},${cy(p1.y + (p2.y - p0.y) / 6)} ${cx(p2.x - (p3.x - p1.x) / 6)},${cy(p2.y - (p3.y - p1.y) / 6)} ${p2.x},${p2.y}`;
  }
  return d + "Z";
}

function straightPath(pts: { x: number; y: number }[]) {
  return pts.map((q, i) => `${i ? "L" : "M"}${q.x},${q.y}`).join("") + "Z";
}

function regionLine(level: number, clipId: string) {
  return (props: any) => {
    const d = smoothPath(props.points);
    const edged = level >= 0.8;
    return (
      <g clipPath={`url(#${clipId})`}>
        {edged && <path d={d} fill="none" stroke="#2f9f9a" strokeWidth={2.8} />}
        <path d={d} fill={levelColors[level]} stroke={edged ? "#111" : "none"} strokeWidth={edged ? 1 : 0} />
      </g>
    );
  };
}

function frameLine(props: any) {
  return <path d={straightPath(props.points)} fill="none" stroke="#3b4654" strokeWidth={1.2} />;
}

function fillLine(color: string) {
  return (props: any) => <path d={straightPath(props.points)} fill={color} />;
}

function Marker({ name, cx, cy }: { name: string; cx: number; cy: number }) {
  switch (name) {
    case "OA":
      return <path d={`M${cx - 2},${cy - 1.6}L${cx + 2},${cy - 1.6}L${cx},${cy + 2}Z`} fill="none" stroke="#6a62cf" strokeWidth={0.9} />;
    case "LOA":
      return <circle cx={cx} cy={cy} r={3} fill="#ec3a2a" />;
    case "LnOA":
      return <circle cx={cx} cy={cy} r={3.2} fill="#ffffff" />;
    case "POA":
      return <path d={`M${cx - 1.5},${cy - 1.5}L${cx + 1.5},${cy + 1.5}M${cx - 1.5},${cy + 1.5}L${cx + 1.5},${cy - 1.5}`} stroke="#333" strokeWidth={0.9} />;
    case "AA":
      return <circle cx={cx} cy={cy} r={1.8} fill="#e6d63f" stroke="#8f8a30" strokeWidth={0.5} />;
    case "Chol":
      return <circle cx={cx} cy={cy} r={2} fill="#58c98c" />;
    case "PA":
      return <circle cx={cx} cy={cy} r={1.6} fill="#e56fc8" />;
    default:
      return <circle cx={cx} cy={cy} r={1.6} fill="#6fd3d0" />;
  }
}

function Legend({ left, top }: { left: number; top: number }) {
  return (
    <div style={{ position: "absolute", left, top, width: 51, height: 96, background: "#c6c6c6", border: "1px solid #454545" }}>
      {classNames.map((name, i) => (
        <div key={name} style={{ position: "absolute", left: 0, top: i * 12.1, height: 12, display: "flex", alignItems: "center", font: `700 10.4px ${serif}`, color: inkColor }}>
          <svg width={10} height={10} style={{ marginLeft: 5 }}>
            <Marker name={name} cx={5} cy={5} />
          </svg>
          <span style={{ marginLeft: 5 }}>{name}</span>
        </div>
      ))}
    </div>
  );
}

function Text({ x, y, rotate, style, children }: any) {
  return (
    <div style={{ position: "absolute", left: x, top: y, transform: `translate(-50%,-50%)${rotate ? ` rotate(${rotate}deg)` : ""}`, whiteSpace: "nowrap", ...style }}>
      {children}
    </div>
  );
}

const supStyle: React.CSSProperties = { fontSize: 8, verticalAlign: 5, lineHeight: 0 };
const labelStyle: React.CSSProperties = { font: `700 12.6px ${serif}`, color: inkColor };

function Panel({ p }: { p: any }) {
  const [left, top, w, h] = p.plot;
  const clipId = `plot-${p.id}`;
  const box = [{ x: 0, y: 0 }, { x: p.xMax, y: 0 }, { x: p.xMax, y: p.yMax }, { x: 0, y: p.yMax }];
  const fmt = (div: number) => (v: number) => (v === 0 ? "0" : String(+(v / div).toFixed(4)));
  return (
    <>
      <div style={{ position: "absolute", left: left - 44, top: top - 6 }}>
        <ScatterChart width={w + 46} height={h + 30} margin={{ top: 6, right: 2, bottom: 0, left: 0 }}>
          <defs>
            <clipPath id={clipId}>
              <rect x={44} y={6} width={w} height={h} />
            </clipPath>
          </defs>
          <XAxis type="number" dataKey="x" domain={[0, p.xMax]} ticks={p.xTicks} interval={0} height={24} tickSize={0} tickLine={false} axisLine={false} tick={tickStyle} tickMargin={6} tickFormatter={fmt(p.xDiv ?? 1)} />
          <YAxis type="number" dataKey="y" domain={[0, p.yMax]} ticks={p.yTicks} interval={0} width={44} tickSize={0} tickLine={false} axisLine={false} tick={tickStyle} tickMargin={4} tickFormatter={fmt(p.yDiv)} />
          <Scatter data={box} line={fillLine(levelColors[0.2])} shape={hiddenMark} legendType="none" isAnimationActive={false} />
          {p.regions.map(([level, pts]: Region, i: number) => (
            <Scatter key={i} data={pts.map(([x, y]) => ({ x, y }))} line={regionLine(level, clipId)} shape={hiddenMark} legendType="none" isAnimationActive={false} />
          ))}
          {classNames.map((name) => (
            <Scatter
              key={name}
              name={name}
              data={(p.marks[name] || []).map(([x, y]: Pt) => ({ x, y }))}
              shape={(s: any) => <Marker name={name} cx={s.cx} cy={s.cy} />}
              legendType="none"
              isAnimationActive={false}
            />
          ))}
          <Scatter data={box} line={frameLine} shape={hiddenMark} legendType="none" isAnimationActive={false} />
        </ScatterChart>
      </div>
      <div style={{ position: "absolute", left: p.cbarX, top: top - 6 }}>
        <ScatterChart width={34} height={h + 12} margin={{ top: 6, right: 0, bottom: 6, left: 0 }}>
          <XAxis type="number" dataKey="x" domain={[0, 1]} hide />
          <YAxis type="number" dataKey="y" orientation="right" domain={[p.cbarLow, 0.9]} ticks={colorbarTicks} interval={0} width={25} tickSize={0} tickLine={false} axisLine={false} tick={{ ...tickStyle, fontSize: 10 }} tickMargin={4} />
          {colorbarBands.filter(([, hi]) => hi > p.cbarLow).map(([lo, hi, color]) => {
            const y0 = Math.max(lo, p.cbarLow);
            return (
              <Scatter
                key={lo}
                data={[{ x: 0, y: y0 }, { x: 1, y: y0 }, { x: 1, y: hi }, { x: 0, y: hi }]}
                line={fillLine(color)}
                shape={hiddenMark}
                legendType="none"
                isAnimationActive={false}
              />
            );
          })}
        </ScatterChart>
      </div>
      <Legend left={p.legend[0]} top={p.legend[1]} />
      <Text x={p.title[0]} y={p.title[1]} style={labelStyle}>{titleLine1}</Text>
      <Text x={p.title[2]} y={p.title[3]} style={labelStyle}>{titleLine2}</Text>
      {p.yExp && (
        <Text x={58} y={p.title[3]} style={{ font: `400 11px ${serif}`, color: "#444" }}>
          ×10<sup style={supStyle}>-3</sup>
        </Text>
      )}
      <Text x={p.xLab[0]} y={p.xLab[1]} style={labelStyle}>
        Intensity Peak {p.xName} cm<sup style={supStyle}>-1</sup> (a.u)
        {p.xExp && (
          <span style={{ marginLeft: p.gap, fontWeight: 400 }}>
            ×10<sup style={supStyle}>{p.xExp}</sup>
          </span>
        )}
      </Text>
      <Text x={p.yLab[0]} y={p.yLab[1]} rotate={-90} style={labelStyle}>
        Intensity Peak {p.yName} cm<sup style={supStyle}>-1</sup> (a.u)
      </Text>
      <Text x={p.cbarLab[0]} y={p.cbarLab[1]} rotate={-90} style={{ font: `700 10.5px ${serif}`, color: inkColor }}>
        Maximum Posterior Probability
      </Text>
      <Text x={p.capt[0]} y={p.capt[1]} style={{ font: `400 22.4px ${serif}`, color: "#303030" }}>
        {p.id}) Accuracy {p.acc}
      </Text>
    </>
  );
}

export default function App() {
  return (
    <div style={{ position: "absolute", left: 0, top: 0, width: 1335, height: 610, background: "#fff", overflow: "hidden", filter: "blur(0.5px)" }}>
      {panels.map((p) => (
        <Panel key={p.id} p={p} />
      ))}
    </div>
  );
}
